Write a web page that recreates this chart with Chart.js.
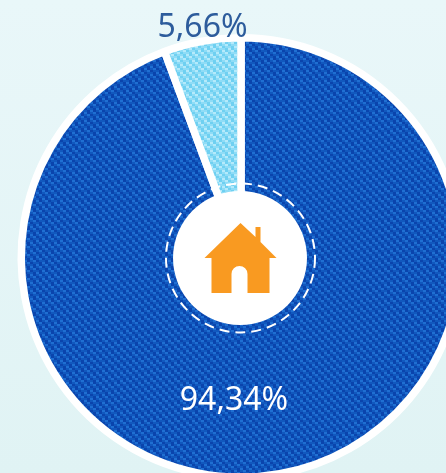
<!DOCTYPE html>
<html>
<head>
<meta charset="utf-8">
<script src="https://cdn.jsdelivr.net/npm/chart.js@4"></script>
<style>
    html, body { margin: 0; width: 446px; height: 473px; overflow: hidden; }
    body { background: linear-gradient(#e9f7f9, #e0f3f4); position: relative; }
    #wrap { position: absolute; left: 0; top: 0; width: 482px; height: 515px; }
</style>
</head>
<body>
<div id="wrap"><canvas id="shareChart"></canvas></div>
<script>
const categories = ['Other', 'Home'];
const shareValues = [94.34, 5.66];
const shareLabels = ['94,34%', '5,66%'];

// denim texture, one small tile repeated over the slice
function denim(dark, mid, light) {
    const tile = document.createElement('canvas');
    tile.width = 24;
    tile.height = 24;
    const c = tile.getContext('2d');
    const cols = [dark, dark, mid, mid, light, light, mid, dark];
    for (let y = 0; y < 24; y++) {
        for (let x = 0; x < 24; x++) {
            // stripes run down to the right in small steps
            const i = (Math.floor(x / 3) * 3 - Math.floor(y / 2) * 2 + 48) % 8;
            c.fillStyle = cols[i];
            c.fillRect(x, y, 1, 1);
        }
    }
    return c.createPattern(tile, 'repeat');
}

const centerPlugin = {
    id: 'centerPlugin',
    afterDatasetsDraw(chart) {
        const arc = chart.getDatasetMeta(0).data[0];
        const x = arc.x, y = arc.y;
        const ctx = chart.ctx;
        ctx.save();

        // white hub
        ctx.fillStyle = '#ffffff';
        ctx.beginPath();
        ctx.arc(x - 1, y + 0.5, 67, 0, Math.PI * 2);
        ctx.fill();

        // dashed stitch
        ctx.strokeStyle = '#ffffff';
        ctx.lineWidth = 2;
        ctx.setLineDash([10, 6]);
        ctx.beginPath();
        ctx.arc(x - 0.5, y + 0.5, 74.5, 0, Math.PI * 2);
        ctx.stroke();
        ctx.setLineDash([]);

        // house icon
        ctx.translate(x - 0.5, y + 0.5);
        ctx.fillStyle = '#f99a21';
        ctx.beginPath();
        ctx.moveTo(-36, 0);
        ctx.lineTo(0, -35);
        ctx.lineTo(15, -21);
        ctx.lineTo(15, -31);
        ctx.lineTo(20, -31);
        ctx.lineTo(20, -16);
        ctx.lineTo(36, 0);
        ctx.lineTo(29, 0);
        ctx.lineTo(29, 35);
        ctx.lineTo(7, 35);
        ctx.lineTo(7, 16);
        ctx.arc(-1, 16, 8, 0, Math.PI, true);
        ctx.lineTo(-9, 35);
        ctx.lineTo(-29, 35);
        ctx.lineTo(-29, 0);
        ctx.closePath();
        ctx.fill();
        ctx.restore();

        // value labels
        ctx.save();
        ctx.font = '32px "Noto Sans"';
        ctx.textAlign = 'center';
        ctx.textBaseline = 'middle';
        ctx.fillStyle = '#ffffff';
        ctx.fillText(shareLabels[0], x - 7, y + 143);
        ctx.fillStyle = '#2d5c9c';
        ctx.fillText(shareLabels[1], x - 38.5, y - 230);
        ctx.restore();
    }
};

document.addEventListener('DOMContentLoaded', function() {
    const shareCtx = document.getElementById('shareChart').getContext('2d');
    const shareChart = new Chart(shareCtx, {
        type: 'doughnut',
        data: {
            labels: categories,
            datasets: [{
                data: shareValues,
                backgroundColor: [
                    denim('#0a44ad', '#1158be', '#1f6fd2'),
                    denim('#6fd0f1', '#8fdcf6', '#b4eafb')
                ],
                borderColor: '#ffffff',
                borderWidth: 7.5
            }]
        },
        options: {
            responsive: true,
            maintainAspectRatio: false,
            animation: false,
            radius: 219.75,
            cutout: 60,
            layout: { padding: 0 },
            plugins: {
                legend: { display: false },
                tooltip: { enabled: false }
            }
        },
        plugins: [centerPlugin]
    });
});
</script>
</body>
</html>
